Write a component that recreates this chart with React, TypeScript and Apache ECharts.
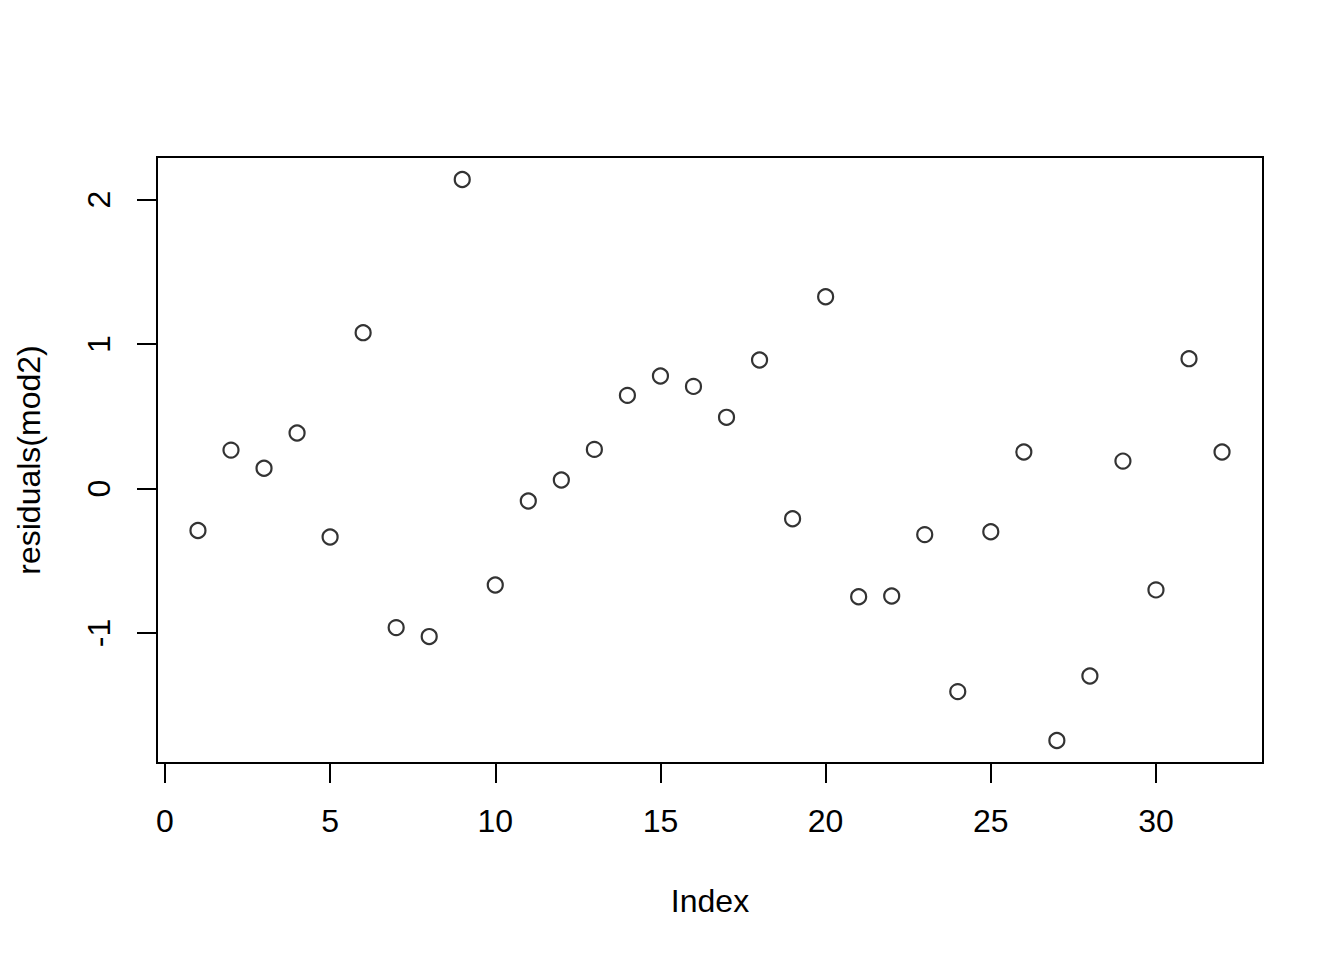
import React, { useEffect, useRef } from "react";
import * as echarts from "echarts";

const indexValues = [
  1, 2, 3, 4, 5, 6, 7, 8, 9, 10, 11, 12, 13, 14, 15, 16,
  17, 18, 19, 20, 21, 22, 23, 24, 25, 26, 27, 28, 29, 30, 31, 32,
];
const residuals = [
  -0.291, 0.266, 0.14, 0.384, -0.336, 1.079, -0.963, -1.025, 2.14, -0.668,
  -0.086, 0.059, 0.271, 0.645, 0.779, 0.707, 0.493, 0.89, -0.209, 1.328,
  -0.749, -0.744, -0.319, -1.406, -0.299, 0.253, -1.745, -1.298, 0.19, -0.702,
  0.899, 0.253,
];
const xTicks = [0, 5, 10, 15, 20, 25, 30];
const yTicks = [-1, 0, 1, 2];
const xTitle = "Index";
const yTitle = "residuals(mod2)";

const FONT = "'Liberation Sans', Arial, Helvetica, sans-serif";

export default function App() {
  const ref = useRef<HTMLDivElement>(null);
  useEffect(() => {
    if (!ref.current) return;
    const chart = echarts.init(ref.current, undefined, { renderer: "svg" });
    const xmin = Math.min(...indexValues);
    const xmax = Math.max(...indexValues);
    const ymin = Math.min(...residuals);
    const ymax = Math.max(...residuals);
    const dx = (xmax - xmin) * 0.04;
    const dy = (ymax - ymin) * 0.04;
    chart.setOption({
      animation: false,
      backgroundColor: "#ffffff",
      grid: {
        left: 157,
        top: 157,
        right: 81,
        bottom: 197,
        show: true,
        borderColor: "#000000",
        borderWidth: 2,
        backgroundColor: "transparent",
      },
      xAxis: {
        type: "value",
        min: xmin - dx,
        max: xmax + dx,
        name: xTitle,
        nameLocation: "middle",
        nameGap: 122,
        nameTextStyle: { fontFamily: FONT, fontSize: 32, color: "#000" },
        axisLine: { show: false, onZero: false },
        splitLine: { show: false },
        axisTick: {
          show: true,
          length: 20,
          customValues: xTicks,
          lineStyle: { color: "#000", width: 2 },
        },
        axisLabel: {
          show: true,
          customValues: xTicks,
          margin: 42,
          fontFamily: FONT,
          fontSize: 32,
          color: "#000",
        },
      },
      yAxis: {
        type: "value",
        min: ymin - dy,
        max: ymax + dy,
        name: yTitle,
        nameLocation: "middle",
        nameGap: 112,
        nameRotate: 90,
        nameTextStyle: { fontFamily: FONT, fontSize: 32, color: "#000" },
        axisLine: { show: false, onZero: false },
        splitLine: { show: false },
        axisTick: {
          show: true,
          length: 20,
          customValues: yTicks,
          lineStyle: { color: "#000", width: 2 },
        },
        axisLabel: {
          show: true,
          customValues: yTicks,
          rotate: 90,
          margin: 42,
          fontFamily: FONT,
          fontSize: 32,
          color: "#000",
        },
      },
      series: [
        {
          type: "scatter",
          data: indexValues.map((x, i) => [x, residuals[i]]),
          symbol: "circle",
          symbolSize: 15,
          itemStyle: {
            color: "transparent",
            borderColor: "#000000",
            borderWidth: 2.2,
          },
          emphasis: { disabled: true },
        },
      ],
    });
    return () => chart.dispose();
  }, []);
  return (
    <div
      ref={ref}
      style={{ position: "absolute", left: 0, top: 0, width: 1344, height: 960 }}
    />
  );
}
